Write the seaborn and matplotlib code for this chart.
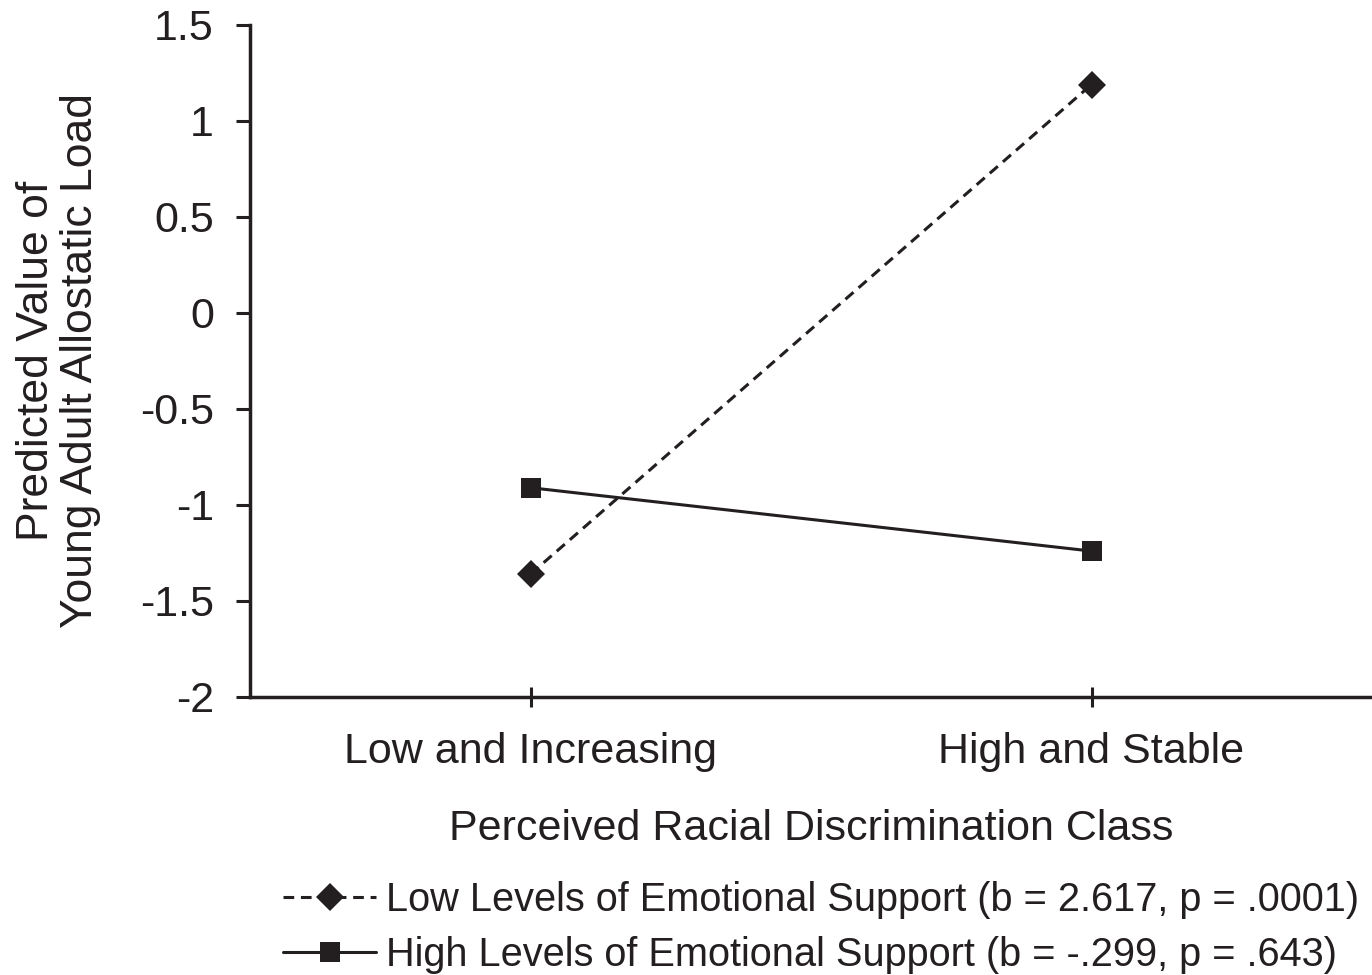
import numpy as np
import pandas as pd
import matplotlib
matplotlib.use('Agg')
import matplotlib.pyplot as plt
import seaborn as sns

# data
classes = ['Low and Increasing', 'High and Stable']
low_support = [-1.36, 1.19]
high_support = [-0.91, -1.24]
series_names = ['Low Levels of Emotional Support (b = 2.617, p = .0001)',
                'High Levels of Emotional Support (b = -.299, p = .643)']
y_ticks = [-2, -1.5, -1, -0.5, 0, 0.5, 1, 1.5]
y_tick_labels = ['-2', '-1.5', '-1', '-0.5', '0', '0.5', '1', '1.5']

ink = '#231f20'

df = pd.DataFrame({
    'cls': classes * 2,
    'value': low_support + high_support,
    'support': [series_names[0]] * 2 + [series_names[1]] * 2,
})

sns.set_style('white')
plt.rcParams['font.family'] = ['Liberation Sans', 'DejaVu Sans']
plt.rcParams['text.color'] = ink
plt.rcParams['axes.labelcolor'] = ink
plt.rcParams['xtick.color'] = ink
plt.rcParams['ytick.color'] = ink

fig = plt.figure(figsize = (13.72, 9.75), dpi = 100)
ax = fig.add_axes([250 / 1372, 1 - 697 / 975, 1 - 250 / 1372, (697 - 25) / 975])

sns.lineplot(data = df, x = 'cls', y = 'value',
             style = 'support', style_order = series_names,
             markers = {series_names[0]: 'D', series_names[1]: 's'},
             dashes = {series_names[0]: (3.5, 2.2), series_names[1]: ''},
             color = ink, linewidth = 2.2, markersize = 14,
             markeredgewidth = 0, sort = False, ax = ax)

ax.set_xlim(-0.5, 1.5)
ax.set_ylim(-2, 1.5)
ax.set_yticks(y_ticks)
ax.set_yticklabels(y_tick_labels)

for side in ['top', 'right']:
    ax.spines[side].set_visible(False)
for side in ['left', 'bottom']:
    ax.spines[side].set_linewidth(2.5)
    ax.spines[side].set_color(ink)

ax.tick_params(axis = 'y', direction = 'out', length = 10, width = 2.2,
               pad = 16, labelsize = 31, left = True)
ax.tick_params(axis = 'x', direction = 'inout', length = 15, width = 2.2,
               pad = 18, labelsize = 31, bottom = True)

ax.set_xlabel('Perceived Racial Discrimination Class', fontsize = 31, labelpad = 26)
ax.set_ylabel('Predicted Value of\nYoung Adult Allostatic Load', fontsize = 32,
              labelpad = 28, linespacing = 1.1)

handles, labels = ax.get_legend_handles_labels()
ax.get_legend().remove()
fig.legend(handles, labels, loc = 'upper left',
           bbox_to_anchor = (283 / 1372, 1 - 881 / 975),
           frameon = False, fontsize = 28.6, borderpad = 0, borderaxespad = 0,
           handlelength = 2.35, handletextpad = 0.25, labelspacing = 0.42)

fig.savefig('out.png', dpi = 100)
